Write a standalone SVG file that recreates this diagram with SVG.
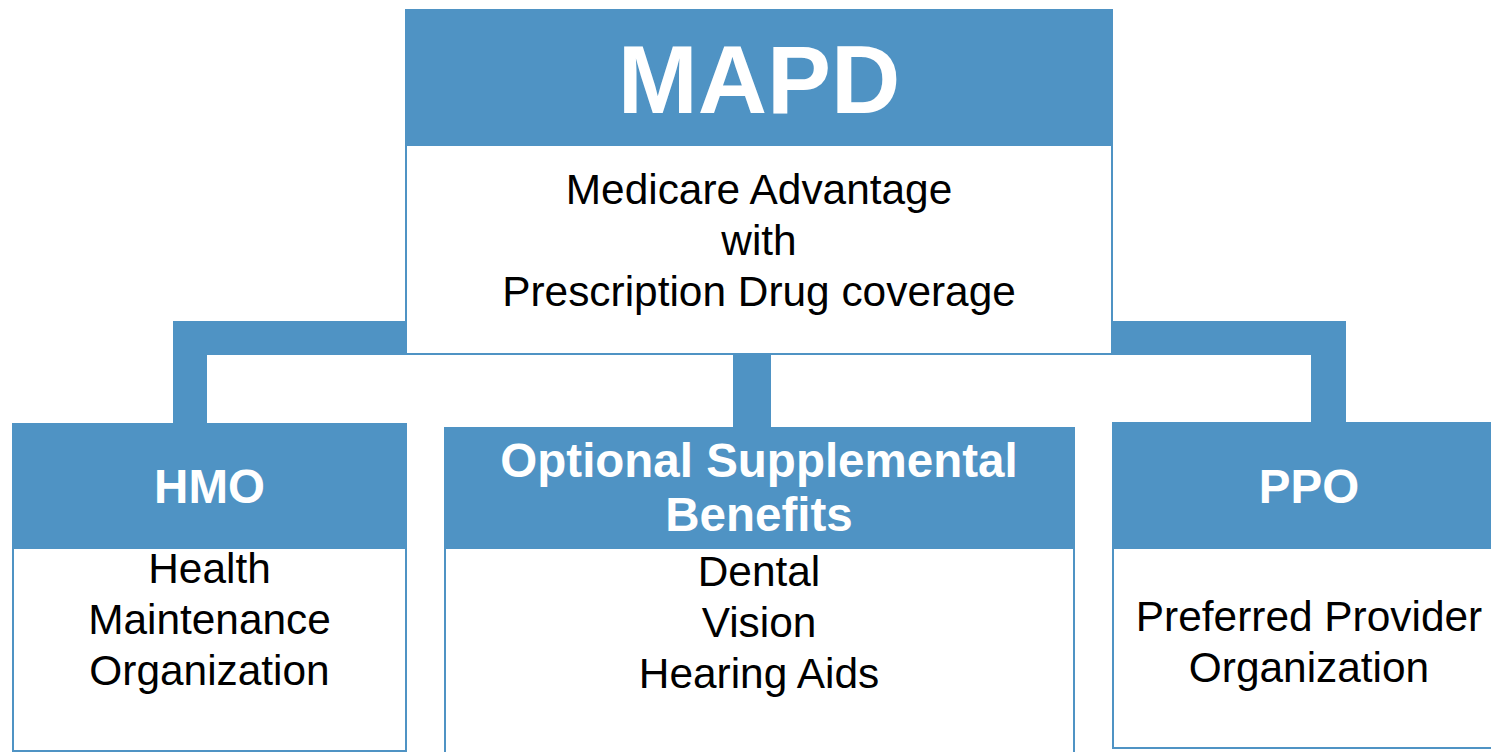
<svg xmlns="http://www.w3.org/2000/svg" width="1491" height="752" viewBox="0 0 1491 752">
<style>
.hd{fill:#4F93C4}
.bd{fill:#FFFFFF;stroke:#4F93C4;stroke-width:2}
.cn{fill:#4F93C4}
.ht{font-family:"Liberation Sans",Arial,sans-serif;font-weight:bold;fill:#FFFFFF;text-anchor:middle}
.bt{font-family:"Liberation Sans",Arial,sans-serif;font-size:42.4px;fill:#000000;text-anchor:middle}
</style>
<rect width="1491" height="752" fill="#FFFFFF"/>
<g id="connectors">
<path class="cn" d="M173,321 H406 V355 H207 V424 H173 Z"/>
<path class="cn" d="M1112,321 H1346 V423 H1311 V355 H1112 Z"/>
<rect class="cn" x="733" y="354" width="38" height="74"/>
</g>
<g id="mapd">
<rect class="bd" x="406" y="145" width="706" height="209"/>
<rect class="hd" x="405" y="9" width="708" height="136"/>
<text class="ht" x="759" y="113" font-size="96">MAPD</text>
<text class="bt" x="759" y="204">Medicare Advantage</text>
<text class="bt" x="759" y="255">with</text>
<text class="bt" x="759" y="306">Prescription Drug coverage</text>
</g>
<g id="hmo">
<rect class="bd" x="13" y="548" width="393" height="203"/>
<rect class="hd" x="12" y="423" width="395" height="125"/>
<text class="ht" x="209.5" y="503" font-size="47.5">HMO</text>
<text class="bt" x="209.5" y="583">Health</text>
<text class="bt" x="209.5" y="634">Maintenance</text>
<text class="bt" x="209.5" y="685">Organization</text>
</g>
<g id="optional">
<rect class="bd" x="445" y="548" width="629" height="206"/>
<rect class="hd" x="444" y="427" width="631" height="121"/>
<text class="ht" x="759" y="477" font-size="47.5">Optional Supplemental</text>
<text class="ht" x="759" y="531" font-size="47.5">Benefits</text>
<text class="bt" x="759" y="586">Dental</text>
<text class="bt" x="759" y="637">Vision</text>
<text class="bt" x="759" y="688">Hearing Aids</text>
</g>
<g id="ppo">
<rect class="bd" x="1113" y="548" width="400" height="200"/>
<rect class="hd" x="1112" y="422" width="402" height="126"/>
<text class="ht" x="1309" y="503" font-size="47.5">PPO</text>
<text class="bt" x="1309" y="631">Preferred Provider</text>
<text class="bt" x="1309" y="682">Organization</text>
</g>
</svg>
